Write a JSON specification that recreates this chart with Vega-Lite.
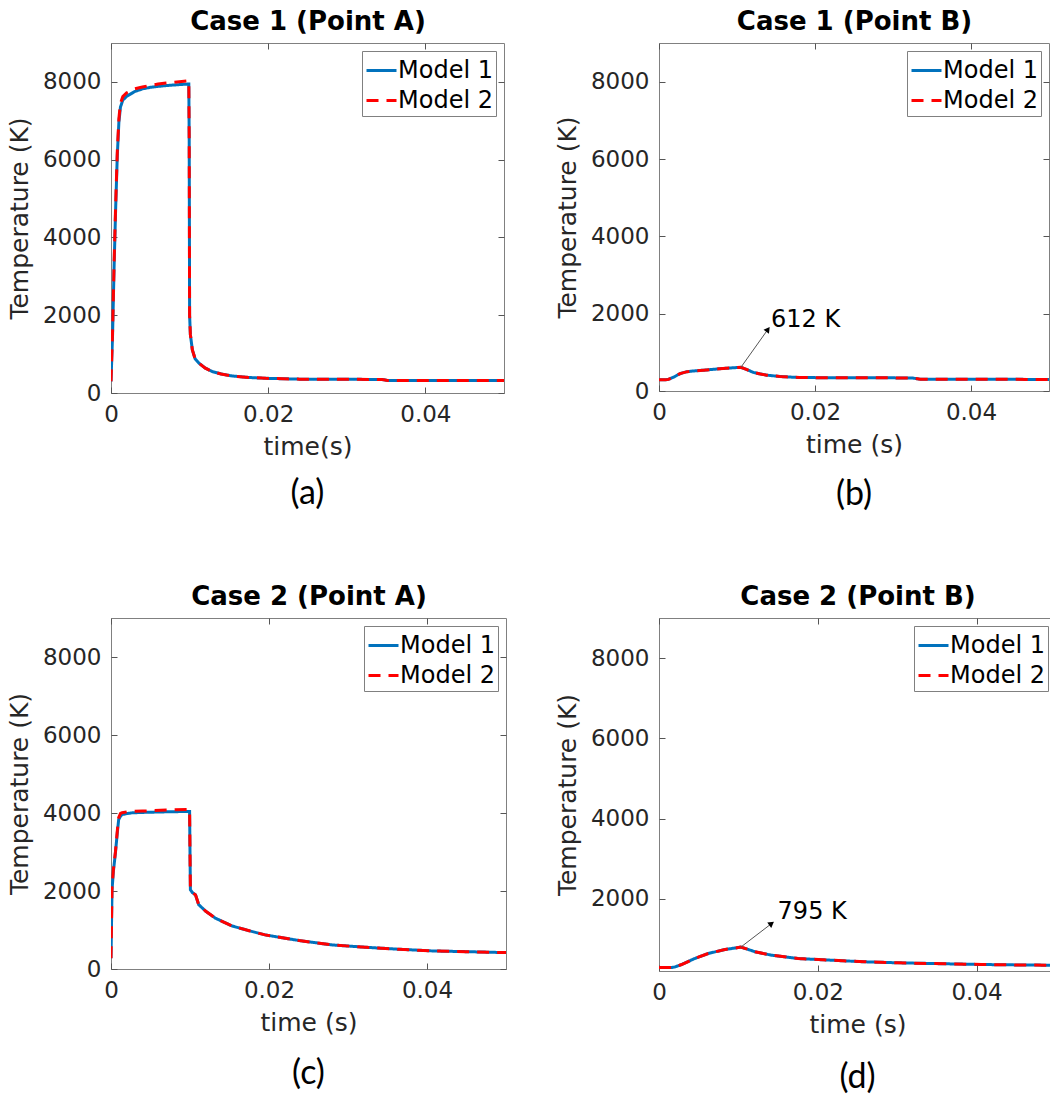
{
"$schema": "https://vega.github.io/schema/vega-lite/v6.json",
"padding": {"left": 6, "top": 8, "right": 0, "bottom": 0},
"background": "white",
"columns": 2,
"spacing": {"row": 225, "column": 153},
"bounds": "flush",
"resolve": {"scale": {"color": "independent", "strokeDash": "independent"}, "legend": {"color": "independent", "strokeDash": "independent"}},
"datasets": {
"a": [
{"t":0,"T":300,"m":"Model 1"},{"t":0.0002,"T":1500,"m":"Model 1"},{"t":0.0004,"T":3300,"m":"Model 1"},{"t":0.0006,"T":4800,"m":"Model 1"},{"t":0.0008,"T":6100,"m":"Model 1"},{"t":0.001,"T":6950,"m":"Model 1"},{"t":0.0012,"T":7350,"m":"Model 1"},{"t":0.0015,"T":7530,"m":"Model 1"},{"t":0.002,"T":7630,"m":"Model 1"},{"t":0.003,"T":7750,"m":"Model 1"},{"t":0.004,"T":7820,"m":"Model 1"},{"t":0.005,"T":7860,"m":"Model 1"},{"t":0.006,"T":7885,"m":"Model 1"},{"t":0.007,"T":7905,"m":"Model 1"},{"t":0.008,"T":7920,"m":"Model 1"},{"t":0.009,"T":7935,"m":"Model 1"},{"t":0.0099,"T":7945,"m":"Model 1"},{"t":0.00995,"T":6500,"m":"Model 1"},{"t":0.01,"T":2000,"m":"Model 1"},{"t":0.0101,"T":1500,"m":"Model 1"},{"t":0.01035,"T":1110,"m":"Model 1"},{"t":0.0107,"T":880,"m":"Model 1"},{"t":0.0112,"T":765,"m":"Model 1"},{"t":0.012,"T":640,"m":"Model 1"},{"t":0.0129,"T":550,"m":"Model 1"},{"t":0.014,"T":490,"m":"Model 1"},{"t":0.0154,"T":438,"m":"Model 1"},{"t":0.0175,"T":400,"m":"Model 1"},{"t":0.0197,"T":378,"m":"Model 1"},{"t":0.024,"T":356,"m":"Model 1"},{"t":0.03,"T":352,"m":"Model 1"},{"t":0.0345,"T":348,"m":"Model 1"},{"t":0.0352,"T":322,"m":"Model 1"},{"t":0.04,"T":320,"m":"Model 1"},{"t":0.05,"T":320,"m":"Model 1"},
{"t":0,"T":300,"m":"Model 2"},{"t":0.0002,"T":1600,"m":"Model 2"},{"t":0.0004,"T":3400,"m":"Model 2"},{"t":0.0006,"T":4900,"m":"Model 2"},{"t":0.0008,"T":6200,"m":"Model 2"},{"t":0.001,"T":7050,"m":"Model 2"},{"t":0.0012,"T":7450,"m":"Model 2"},{"t":0.0015,"T":7620,"m":"Model 2"},{"t":0.002,"T":7720,"m":"Model 2"},{"t":0.003,"T":7820,"m":"Model 2"},{"t":0.004,"T":7870,"m":"Model 2"},{"t":0.005,"T":7910,"m":"Model 2"},{"t":0.006,"T":7945,"m":"Model 2"},{"t":0.007,"T":7970,"m":"Model 2"},{"t":0.008,"T":7990,"m":"Model 2"},{"t":0.009,"T":8010,"m":"Model 2"},{"t":0.0099,"T":8030,"m":"Model 2"},{"t":0.00995,"T":6500,"m":"Model 2"},{"t":0.01,"T":2000,"m":"Model 2"},{"t":0.0101,"T":1500,"m":"Model 2"},{"t":0.01035,"T":1110,"m":"Model 2"},{"t":0.0107,"T":880,"m":"Model 2"},{"t":0.0112,"T":765,"m":"Model 2"},{"t":0.012,"T":640,"m":"Model 2"},{"t":0.0129,"T":550,"m":"Model 2"},{"t":0.014,"T":490,"m":"Model 2"},{"t":0.0154,"T":438,"m":"Model 2"},{"t":0.0175,"T":400,"m":"Model 2"},{"t":0.0197,"T":378,"m":"Model 2"},{"t":0.024,"T":356,"m":"Model 2"},{"t":0.03,"T":352,"m":"Model 2"},{"t":0.0345,"T":348,"m":"Model 2"},{"t":0.0352,"T":322,"m":"Model 2"},{"t":0.04,"T":320,"m":"Model 2"},{"t":0.05,"T":320,"m":"Model 2"}
],
"b": [
{"t":0,"T":290,"m":"Model 1"},{"t":0.0008,"T":290,"m":"Model 1"},{"t":0.0012,"T":300,"m":"Model 1"},{"t":0.002,"T":370,"m":"Model 1"},{"t":0.0027,"T":450,"m":"Model 1"},{"t":0.0035,"T":495,"m":"Model 1"},{"t":0.0044,"T":518,"m":"Model 1"},{"t":0.0061,"T":544,"m":"Model 1"},{"t":0.0078,"T":577,"m":"Model 1"},{"t":0.0095,"T":600,"m":"Model 1"},{"t":0.0105,"T":612,"m":"Model 1"},{"t":0.0112,"T":560,"m":"Model 1"},{"t":0.0121,"T":480,"m":"Model 1"},{"t":0.013,"T":440,"m":"Model 1"},{"t":0.0138,"T":410,"m":"Model 1"},{"t":0.0155,"T":375,"m":"Model 1"},{"t":0.018,"T":348,"m":"Model 1"},{"t":0.021,"T":345,"m":"Model 1"},{"t":0.025,"T":342,"m":"Model 1"},{"t":0.03,"T":340,"m":"Model 1"},{"t":0.0325,"T":335,"m":"Model 1"},{"t":0.0335,"T":305,"m":"Model 1"},{"t":0.04,"T":302,"m":"Model 1"},{"t":0.05,"T":300,"m":"Model 1"},
{"t":0,"T":290,"m":"Model 2"},{"t":0.0008,"T":290,"m":"Model 2"},{"t":0.0012,"T":300,"m":"Model 2"},{"t":0.002,"T":370,"m":"Model 2"},{"t":0.0027,"T":450,"m":"Model 2"},{"t":0.0035,"T":495,"m":"Model 2"},{"t":0.0044,"T":518,"m":"Model 2"},{"t":0.0061,"T":544,"m":"Model 2"},{"t":0.0078,"T":577,"m":"Model 2"},{"t":0.0095,"T":600,"m":"Model 2"},{"t":0.0105,"T":612,"m":"Model 2"},{"t":0.0112,"T":560,"m":"Model 2"},{"t":0.0121,"T":480,"m":"Model 2"},{"t":0.013,"T":440,"m":"Model 2"},{"t":0.0138,"T":410,"m":"Model 2"},{"t":0.0155,"T":375,"m":"Model 2"},{"t":0.018,"T":348,"m":"Model 2"},{"t":0.021,"T":345,"m":"Model 2"},{"t":0.025,"T":342,"m":"Model 2"},{"t":0.03,"T":340,"m":"Model 2"},{"t":0.0325,"T":335,"m":"Model 2"},{"t":0.0335,"T":305,"m":"Model 2"},{"t":0.04,"T":302,"m":"Model 2"},{"t":0.05,"T":300,"m":"Model 2"}
],
"c": [
{"t":0,"T":275,"m":"Model 1"},{"t":0.00013,"T":2030,"m":"Model 1"},{"t":0.0003,"T":2500,"m":"Model 1"},{"t":0.00056,"T":2975,"m":"Model 1"},{"t":0.0008,"T":3500,"m":"Model 1"},{"t":0.00097,"T":3830,"m":"Model 1"},{"t":0.0012,"T":3920,"m":"Model 1"},{"t":0.0014,"T":3960,"m":"Model 1"},{"t":0.002,"T":3985,"m":"Model 1"},{"t":0.0027,"T":4005,"m":"Model 1"},{"t":0.004,"T":4015,"m":"Model 1"},{"t":0.007,"T":4030,"m":"Model 1"},{"t":0.0098,"T":4040,"m":"Model 1"},{"t":0.00995,"T":4040,"m":"Model 1"},{"t":0.01,"T":3000,"m":"Model 1"},{"t":0.01005,"T":2030,"m":"Model 1"},{"t":0.0103,"T":1960,"m":"Model 1"},{"t":0.0107,"T":1900,"m":"Model 1"},{"t":0.0111,"T":1650,"m":"Model 1"},{"t":0.012,"T":1480,"m":"Model 1"},{"t":0.0132,"T":1305,"m":"Model 1"},{"t":0.0153,"T":1105,"m":"Model 1"},{"t":0.0175,"T":980,"m":"Model 1"},{"t":0.0195,"T":875,"m":"Model 1"},{"t":0.0238,"T":730,"m":"Model 1"},{"t":0.028,"T":617,"m":"Model 1"},{"t":0.0322,"T":558,"m":"Model 1"},{"t":0.0364,"T":507,"m":"Model 1"},{"t":0.0407,"T":463,"m":"Model 1"},{"t":0.0449,"T":445,"m":"Model 1"},{"t":0.05,"T":420,"m":"Model 1"},
{"t":0,"T":275,"m":"Model 2"},{"t":0.00013,"T":2100,"m":"Model 2"},{"t":0.0003,"T":2550,"m":"Model 2"},{"t":0.00056,"T":3000,"m":"Model 2"},{"t":0.0008,"T":3550,"m":"Model 2"},{"t":0.00097,"T":3880,"m":"Model 2"},{"t":0.0012,"T":3990,"m":"Model 2"},{"t":0.0014,"T":4005,"m":"Model 2"},{"t":0.002,"T":4030,"m":"Model 2"},{"t":0.0027,"T":4040,"m":"Model 2"},{"t":0.004,"T":4050,"m":"Model 2"},{"t":0.007,"T":4075,"m":"Model 2"},{"t":0.0098,"T":4090,"m":"Model 2"},{"t":0.00995,"T":4090,"m":"Model 2"},{"t":0.01,"T":3000,"m":"Model 2"},{"t":0.01005,"T":2030,"m":"Model 2"},{"t":0.0103,"T":1960,"m":"Model 2"},{"t":0.0107,"T":1900,"m":"Model 2"},{"t":0.0111,"T":1650,"m":"Model 2"},{"t":0.012,"T":1480,"m":"Model 2"},{"t":0.0132,"T":1305,"m":"Model 2"},{"t":0.0153,"T":1105,"m":"Model 2"},{"t":0.0175,"T":980,"m":"Model 2"},{"t":0.0195,"T":875,"m":"Model 2"},{"t":0.0238,"T":730,"m":"Model 2"},{"t":0.028,"T":617,"m":"Model 2"},{"t":0.0322,"T":558,"m":"Model 2"},{"t":0.0364,"T":507,"m":"Model 2"},{"t":0.0407,"T":463,"m":"Model 2"},{"t":0.0449,"T":445,"m":"Model 2"},{"t":0.05,"T":420,"m":"Model 2"}
],
"d": [
{"t":0,"T":287,"m":"Model 1"},{"t":0.0016,"T":287,"m":"Model 1"},{"t":0.002,"T":300,"m":"Model 1"},{"t":0.00285,"T":362,"m":"Model 1"},{"t":0.0036,"T":430,"m":"Model 1"},{"t":0.0045,"T":511,"m":"Model 1"},{"t":0.0062,"T":636,"m":"Model 1"},{"t":0.0083,"T":735,"m":"Model 1"},{"t":0.0103,"T":795,"m":"Model 1"},{"t":0.0112,"T":740,"m":"Model 1"},{"t":0.0121,"T":678,"m":"Model 1"},{"t":0.0142,"T":593,"m":"Model 1"},{"t":0.0175,"T":511,"m":"Model 1"},{"t":0.0217,"T":469,"m":"Model 1"},{"t":0.0259,"T":429,"m":"Model 1"},{"t":0.03,"T":405,"m":"Model 1"},{"t":0.0343,"T":387,"m":"Model 1"},{"t":0.0406,"T":362,"m":"Model 1"},{"t":0.045,"T":352,"m":"Model 1"},{"t":0.05,"T":343,"m":"Model 1"},
{"t":0,"T":287,"m":"Model 2"},{"t":0.0016,"T":287,"m":"Model 2"},{"t":0.002,"T":300,"m":"Model 2"},{"t":0.00285,"T":362,"m":"Model 2"},{"t":0.0036,"T":430,"m":"Model 2"},{"t":0.0045,"T":511,"m":"Model 2"},{"t":0.0062,"T":636,"m":"Model 2"},{"t":0.0083,"T":735,"m":"Model 2"},{"t":0.0103,"T":795,"m":"Model 2"},{"t":0.0112,"T":740,"m":"Model 2"},{"t":0.0121,"T":678,"m":"Model 2"},{"t":0.0142,"T":593,"m":"Model 2"},{"t":0.0175,"T":511,"m":"Model 2"},{"t":0.0217,"T":469,"m":"Model 2"},{"t":0.0259,"T":429,"m":"Model 2"},{"t":0.03,"T":405,"m":"Model 2"},{"t":0.0343,"T":387,"m":"Model 2"},{"t":0.0406,"T":362,"m":"Model 2"},{"t":0.045,"T":352,"m":"Model 2"},{"t":0.05,"T":343,"m":"Model 2"}
],
"annB": [{"t":0.0105,"T":612,"t2":0.01397,"T2":1595,"label":"612 K"}],
"annD": [{"t":0.0103,"T":795,"t2":0.01418,"T2":1383,"label":"795 K"}]
},
"concat": [
{
 "width": 393, "height": 350,
 "title": {"text": "(a)"},
 "data": {"name": "a"},
 "layer": [
  {"mark": {"type": "line", "strokeWidth": 3, "clip": true},
   "encoding": {
    "x": {"field": "t", "type": "quantitative", "scale": {"domain": [0, 0.05], "nice": false, "zero": false}, "axis": {"values": [0, 0.02, 0.04], "format": "~g", "title": "time(s)"}},
    "y": {"field": "T", "type": "quantitative", "scale": {"domain": [0, 9000], "nice": false, "zero": false}, "axis": {"values": [0, 2000, 4000, 6000, 8000], "format": "d", "title": "Temperature (K)"}},
    "color": {"field": "m", "type": "nominal", "scale": {"domain": ["Model 1", "Model 2"], "range": ["#0072BD", "#FF0000"]}, "legend": {"title": null}},
    "strokeDash": {"field": "m", "type": "nominal", "scale": {"domain": ["Model 1", "Model 2"], "range": [[1, 0], [12, 8]]}, "legend": {"title": null}}
   }},
  {"mark": {"type": "point", "opacity": 0, "clip": true},
   "encoding": {
    "x": {"datum": 0, "type": "quantitative", "axis": {"orient": "top", "labels": false, "values": [0, 0.02, 0.04], "title": "Case 1 (Point A)", "titleFontWeight": "bold", "titleFontSize": 26, "titleColor": "black"}},
    "y": {"datum": 0, "type": "quantitative", "axis": {"orient": "right", "labels": false, "values": [0, 2000, 4000, 6000, 8000], "title": null}}
   }}
 ],
 "resolve": {"axis": {"x": "independent", "y": "independent"}}
},
{
 "width": 390, "height": 348,
 "title": {"text": "(b)", "offset": 21},
 "data": {"name": "b"},
 "layer": [
  {"mark": {"type": "line", "strokeWidth": 3, "clip": true},
   "encoding": {
    "x": {"field": "t", "type": "quantitative", "scale": {"domain": [0, 0.05], "nice": false, "zero": false}, "axis": {"values": [0, 0.02, 0.04], "format": "~g", "title": "time (s)"}},
    "y": {"field": "T", "type": "quantitative", "scale": {"domain": [0, 9000], "nice": false, "zero": false}, "axis": {"values": [0, 2000, 4000, 6000, 8000], "format": "d", "title": "Temperature (K)"}},
    "color": {"field": "m", "type": "nominal", "scale": {"domain": ["Model 1", "Model 2"], "range": ["#0072BD", "#FF0000"]}, "legend": {"title": null}},
    "strokeDash": {"field": "m", "type": "nominal", "scale": {"domain": ["Model 1", "Model 2"], "range": [[1, 0], [12, 8]]}, "legend": {"title": null}}
   }},
  {"mark": {"type": "point", "opacity": 0, "clip": true},
   "encoding": {
    "x": {"datum": 0, "type": "quantitative", "axis": {"orient": "top", "labels": false, "values": [0, 0.02, 0.04], "title": "Case 1 (Point B)", "titleFontWeight": "bold", "titleFontSize": 26, "titleColor": "black"}},
    "y": {"datum": 0, "type": "quantitative", "axis": {"orient": "right", "labels": false, "values": [0, 2000, 4000, 6000, 8000], "title": null}}
   }},
  {"data": {"name": "annB"},
   "layer": [
    {"mark": {"type": "rule", "color": "#555555", "strokeWidth": 1}, "encoding": {"x": {"field": "t", "type": "quantitative", "axis": null}, "y": {"field": "T", "type": "quantitative", "axis": null}, "x2": {"field": "t2"}, "y2": {"field": "T2"}}},
    {"mark": {"type": "point", "shape": "triangle-up", "filled": true, "color": "black", "opacity": 1, "size": 45, "angle": 36.5}, "encoding": {"x": {"field": "t2", "type": "quantitative", "axis": null}, "y": {"field": "T2", "type": "quantitative", "axis": null}}},
    {"mark": {"type": "text", "align": "left", "baseline": "middle", "dx": 3, "dy": -9, "font": "DejaVu Sans", "fontSize": 24, "color": "black"}, "encoding": {"x": {"field": "t2", "type": "quantitative", "axis": null}, "y": {"field": "T2", "type": "quantitative", "axis": null}, "text": {"field": "label"}}}
   ]}
 ],
 "resolve": {"axis": {"x": "independent", "y": "independent"}}
},
{
 "width": 395, "height": 351,
 "title": {"text": "(c)", "offset": 22},
 "data": {"name": "c"},
 "layer": [
  {"mark": {"type": "line", "strokeWidth": 3, "clip": true},
   "encoding": {
    "x": {"field": "t", "type": "quantitative", "scale": {"domain": [0, 0.05], "nice": false, "zero": false}, "axis": {"values": [0, 0.02, 0.04], "format": "~g", "title": "time (s)"}},
    "y": {"field": "T", "type": "quantitative", "scale": {"domain": [0, 9000], "nice": false, "zero": false}, "axis": {"values": [0, 2000, 4000, 6000, 8000], "format": "d", "title": "Temperature (K)"}},
    "color": {"field": "m", "type": "nominal", "scale": {"domain": ["Model 1", "Model 2"], "range": ["#0072BD", "#FF0000"]}, "legend": {"title": null}},
    "strokeDash": {"field": "m", "type": "nominal", "scale": {"domain": ["Model 1", "Model 2"], "range": [[1, 0], [12, 8]]}, "legend": {"title": null}}
   }},
  {"mark": {"type": "point", "opacity": 0, "clip": true},
   "encoding": {
    "x": {"datum": 0, "type": "quantitative", "axis": {"orient": "top", "labels": false, "values": [0, 0.02, 0.04], "title": "Case 2 (Point A)", "titleFontWeight": "bold", "titleFontSize": 26, "titleColor": "black"}},
    "y": {"datum": 0, "type": "quantitative", "axis": {"orient": "right", "labels": false, "values": [0, 2000, 4000, 6000, 8000], "title": null}}
   }}
 ],
 "resolve": {"axis": {"x": "independent", "y": "independent"}}
},
{
 "width": 397, "height": 353,
 "title": {"text": "(d)", "offset": 24},
 "data": {"name": "d"},
 "layer": [
  {"mark": {"type": "line", "strokeWidth": 3, "clip": true},
   "encoding": {
    "x": {"field": "t", "type": "quantitative", "scale": {"domain": [0, 0.05], "nice": false, "zero": false}, "axis": {"values": [0, 0.02, 0.04], "format": "~g", "title": "time (s)"}},
    "y": {"field": "T", "type": "quantitative", "scale": {"domain": [200, 9000], "nice": false, "zero": false}, "axis": {"values": [2000, 4000, 6000, 8000], "format": "d", "title": "Temperature (K)"}},
    "color": {"field": "m", "type": "nominal", "scale": {"domain": ["Model 1", "Model 2"], "range": ["#0072BD", "#FF0000"]}, "legend": {"title": null}},
    "strokeDash": {"field": "m", "type": "nominal", "scale": {"domain": ["Model 1", "Model 2"], "range": [[1, 0], [12, 8]]}, "legend": {"title": null}}
   }},
  {"mark": {"type": "point", "opacity": 0, "clip": true},
   "encoding": {
    "x": {"datum": 0, "type": "quantitative", "axis": {"orient": "top", "labels": false, "values": [0, 0.02, 0.04], "title": "Case 2 (Point B)", "titleFontWeight": "bold", "titleFontSize": 26, "titleColor": "black"}},
    "y": {"datum": 2000, "type": "quantitative", "axis": {"orient": "right", "labels": false, "values": [2000, 4000, 6000, 8000], "title": null}}
   }},
  {"data": {"name": "annD"},
   "layer": [
    {"mark": {"type": "rule", "color": "#555555", "strokeWidth": 1}, "encoding": {"x": {"field": "t", "type": "quantitative", "axis": null}, "y": {"field": "T", "type": "quantitative", "axis": null}, "x2": {"field": "t2"}, "y2": {"field": "T2"}}},
    {"mark": {"type": "point", "shape": "triangle-up", "filled": true, "color": "black", "opacity": 1, "size": 45, "angle": 53.6}, "encoding": {"x": {"field": "t2", "type": "quantitative", "axis": null}, "y": {"field": "T2", "type": "quantitative", "axis": null}}},
    {"mark": {"type": "text", "align": "left", "baseline": "middle", "dx": 6, "dy": -12, "font": "DejaVu Sans", "fontSize": 24, "color": "black"}, "encoding": {"x": {"field": "t2", "type": "quantitative", "axis": null}, "y": {"field": "T2", "type": "quantitative", "axis": null}, "text": {"field": "label"}}}
   ]}
 ],
 "resolve": {"axis": {"x": "independent", "y": "independent"}}
}
],
"config": {
 "view": {"stroke": "#808080", "strokeWidth": 1},
 "axis": {"grid": false, "domain": false, "ticks": true, "tickColor": "#555555", "tickSize": -6, "tickWidth": 1, "labelFlush": false, "labelOverlap": false, "labelFont": "DejaVu Sans", "labelFontSize": 23, "labelColor": "#262626", "titleFont": "DejaVu Sans", "titleFontSize": 25, "titleFontWeight": "normal", "titleColor": "#262626"},
 "axisX": {"labelPadding": 16, "titlePadding": 8},
 "axisY": {"labelPadding": 16, "titlePadding": 10},
 "legend": {"orient": "top-right", "offset": 8, "strokeColor": "#808080", "fillColor": "white", "padding": 3, "labelFont": "DejaVu Sans", "labelFontSize": 24, "labelColor": "black", "symbolType": "stroke", "symbolSize": 900, "symbolStrokeWidth": 3, "rowPadding": 1, "labelOffset": 0},
 "title": {"font": "Lato", "fontSize": 34, "fontWeight": "normal", "color": "black", "orient": "bottom", "offset": 18, "anchor": "middle"}
}
}
